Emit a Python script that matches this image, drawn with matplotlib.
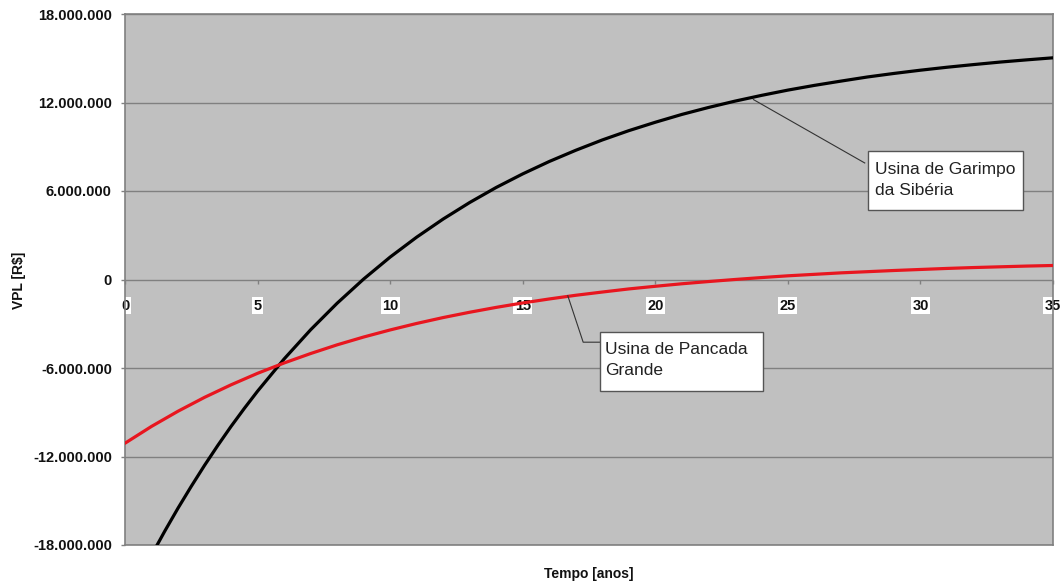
import matplotlib
matplotlib.use("Agg")
import matplotlib.pyplot as plt
from matplotlib.patches import Rectangle
from matplotlib.ticker import FuncFormatter

plt.rcParams["font.family"] = ["Liberation Sans", "DejaVu Sans"]

# Years of operation (Garimpo has extra half-year readings where it bends most)
anos_garimpo = [0, 1, 1.5, 2, 2.5, 3, 3.5, 4, 4.5, 5, 6, 7, 8, 9,
                10, 11, 12, 13, 14, 15, 16, 17, 18, 19,
                20, 21, 22, 23, 24, 25, 26, 27, 28, 29,
                30, 31, 32, 33, 34, 35]
anos_pancada = list(range(0, 36))

# VPL (R$ millions) for each plant by year
vpl_garimpo = [-22.20, -18.69, -17.06, -15.50, -14.02, -12.60, -11.25, -9.96, -8.74, -7.57,
               -5.39, -3.41, -1.61, 0.03,
               1.52, 2.87, 4.10, 5.22, 6.24, 7.16, 8.00, 8.76, 9.46, 10.09,
               10.66, 11.19, 11.66, 12.09, 12.48, 12.84, 13.16, 13.45, 13.73, 13.97,
               14.19, 14.39, 14.57, 14.74, 14.89, 15.03]
vpl_pancada = [-11.10, -9.96, -8.93, -7.99, -7.14, -6.36, -5.66, -5.02, -4.43, -3.90,
               -3.42, -2.98, -2.58, -2.22, -1.89, -1.59, -1.32, -1.07, -0.85, -0.64,
               -0.46, -0.29, -0.14, 0.00, 0.13, 0.25, 0.35, 0.45, 0.53, 0.61,
               0.68, 0.75, 0.81, 0.86, 0.91, 0.95]

x_ticks = [0, 5, 10, 15, 20, 25, 30, 35]
y_ticks = [-18e6, -12e6, -6e6, 0, 6e6, 12e6, 18e6]

rotulo_garimpo = "Usina de Garimpo\nda Sibéria"
rotulo_pancada = "Usina de Pancada\nGrande"

W, H = 1061, 583
fig = plt.figure(figsize=(W / 100, H / 100), dpi=100)
ax = fig.add_axes([125 / W, 1 - 545 / H, (1053 - 125) / W, (545 - 14) / H])

grid_color = "#808080"
ax.set_facecolor("#c0c0c0")
for s in ax.spines.values():
    s.set_color(grid_color)
    s.set_linewidth(1.2)

ax.set_xlim(0, 35)
ax.set_ylim(-18e6, 18e6)
ax.set_yticks(y_ticks)
ax.yaxis.grid(True, color=grid_color, linewidth=1.0)
ax.set_axisbelow(True)


def fmt_reais(v, pos):
    if abs(v) < 1:
        return "0"
    s = f"{abs(v):,.0f}".replace(",", ".")
    return ("-" if v < 0 else "") + s


ax.yaxis.set_major_formatter(FuncFormatter(fmt_reais))
ax.tick_params(axis="y", length=3, width=1, color=grid_color, pad=6.5,
               labelsize=10.5, labelcolor="#111111")
for lbl in ax.get_yticklabels():
    lbl.set_fontweight("bold")

ax.set_xticks([])

# Year axis drawn along the zero line
sec = ax.secondary_xaxis(0, transform=ax.transData)
sec.set_alignment("bottom")
sec.spines["bottom"].set_visible(False)
sec.set_xticks(x_ticks)
sec.tick_params(axis="x", length=3, width=1, color=grid_color, pad=11,
                labelsize=10.5, labelcolor="#111111")
for lbl in sec.get_xticklabels():
    lbl.set_fontweight("bold")
    lbl.set_bbox(dict(facecolor="white", edgecolor="none", pad=1.0))

y_g = [v * 1e6 for v in vpl_garimpo]
y_p = [v * 1e6 for v in vpl_pancada]
ax.plot(anos_garimpo, y_g, color="black", linewidth=2.3, solid_capstyle="round", zorder=3)
ax.plot(anos_pancada, y_p, color="#e8161f", linewidth=2.3, solid_capstyle="round", zorder=3)

# Callout for Garimpo da Sibéria
ax.plot([23.7, 27.9], [12.2e6, 7.9e6], color="#333333", linewidth=0.8, zorder=4)
ax.add_patch(Rectangle((28.03, 4.7e6), 33.87 - 28.03, 8.7e6 - 4.7e6,
                       facecolor="white", edgecolor="#555555", linewidth=1.0, zorder=5))
ax.text(28.3, 6.75e6, rotulo_garimpo, fontsize=12.5, va="center", ha="left",
        linespacing=1.55, color="#222222", zorder=6)

# Callout for Pancada Grande
ax.plot([16.7, 17.28, 17.92], [-1.1e6, -4.25e6, -4.25e6], color="#333333",
        linewidth=0.8, zorder=4)
ax.add_patch(Rectangle((17.92, -7.59e6), 24.07 - 17.92, 7.59e6 - 3.57e6,
                       facecolor="white", edgecolor="#555555", linewidth=1.0, zorder=5))
ax.text(18.1, -5.47e6, rotulo_pancada, fontsize=12.5, va="center", ha="left",
        linespacing=1.55, color="#222222", zorder=6)

fig.text(589 / W, 1 - 574 / H, "Tempo [anos]", fontsize=10, fontweight="bold",
         ha="center", va="center", color="#111111")
fig.text(19 / W, 1 - 280 / H, "VPL [R$]", fontsize=10, fontweight="bold",
         ha="center", va="center", rotation=90, color="#111111")

fig.savefig("out.png", dpi=100)
